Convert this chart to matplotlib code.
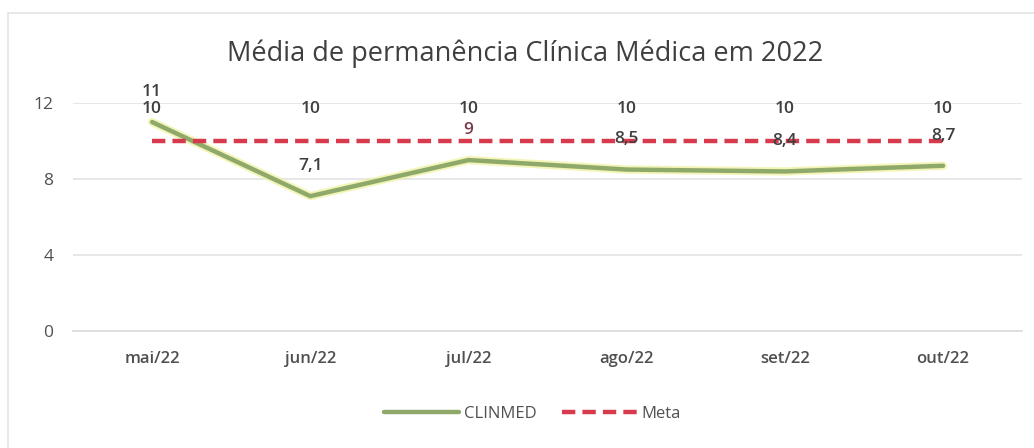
import numpy as np
import matplotlib.pyplot as plt
from matplotlib.patches import Rectangle

# Data
months = ['mai/22', 'jun/22', 'jul/22', 'ago/22', 'set/22', 'out/22']
clinmed = [11, 7.1, 9, 8.5, 8.4, 8.7]
meta = [10, 10, 10, 10, 10, 10]
clinmed_labels = ['11', '7,1', '9', '8,5', '8,4', '8,7']
meta_labels = ['10', '10', '10', '10', '10', '10']

plt.rcParams['font.family'] = ['Open Sans', 'DejaVu Sans']

fig = plt.figure(figsize=(10.34, 4.48), dpi=100)
fig.patch.set_facecolor('white')
fig.patches.append(Rectangle((0.008, -0.02), 1.0, 0.99, transform=fig.transFigure,
                             facecolor='none', edgecolor='#e4e4e4', linewidth=1.2))

ax = fig.add_axes([0.0706, 0.261, 0.918, 0.509])
x = np.arange(len(months))

ax.plot(x, clinmed, color='#eef29a', linewidth=6, alpha=0.7, solid_capstyle='round', zorder=2)
ax.plot(x, clinmed, color='#8fa96b', linewidth=3.2, solid_capstyle='round', zorder=3, label='CLINMED')
ax.plot(x, meta, color='#d63a4c', linewidth=3.2, linestyle=(0, (3, 1.6)), zorder=4, label='Meta')

for xi, v, t in zip(x, clinmed, clinmed_labels):
    c = '#7a3c4a' if t == '9' else '#3f3f3f'
    ax.annotate(t, (xi, v), xytext=(0, 16), textcoords='offset points', ha='center', va='bottom',
                fontsize=12.5, fontweight='semibold', color=c, zorder=5)
for xi, v, t in zip(x, meta, meta_labels):
    ax.annotate(t, (xi, v), xytext=(0, 17), textcoords='offset points', ha='center', va='bottom',
                fontsize=12.5, fontweight='semibold', color='#3f3f3f', zorder=5)

ax.set_xlim(-0.5, len(months) - 0.5)
ax.set_ylim(0, 12)
ax.set_yticks([0, 4, 8, 12])
ax.set_xticks(x)
ax.set_xticklabels(months, fontsize=12, fontweight='semibold', color='#505050')
ax.tick_params(axis='y', labelsize=12.5, labelcolor='#505050', length=0, pad=14)
ax.tick_params(axis='x', length=0, pad=14)
ax.grid(axis='y', color='#e3e3e3', linewidth=1.2)
ax.set_axisbelow(True)
for s in ['top', 'right', 'left']:
    ax.spines[s].set_visible(False)
ax.spines['bottom'].set_color('#dcdcdc')
ax.spines['bottom'].set_linewidth(1.2)

fig.text(0.508, 0.88, 'Média de permanência Clínica Médica em 2022', ha='center', va='center',
         fontsize=19.5, color='#3f3f3f')

fig.legend(handles=ax.get_lines()[1:], loc='center', bbox_to_anchor=(0.515, 0.077), ncol=2,
           frameon=False, fontsize=12, handlelength=4.5, columnspacing=1.5, handletextpad=0.3,
           labelcolor='#505050')

fig.savefig('out.png', dpi=100)
